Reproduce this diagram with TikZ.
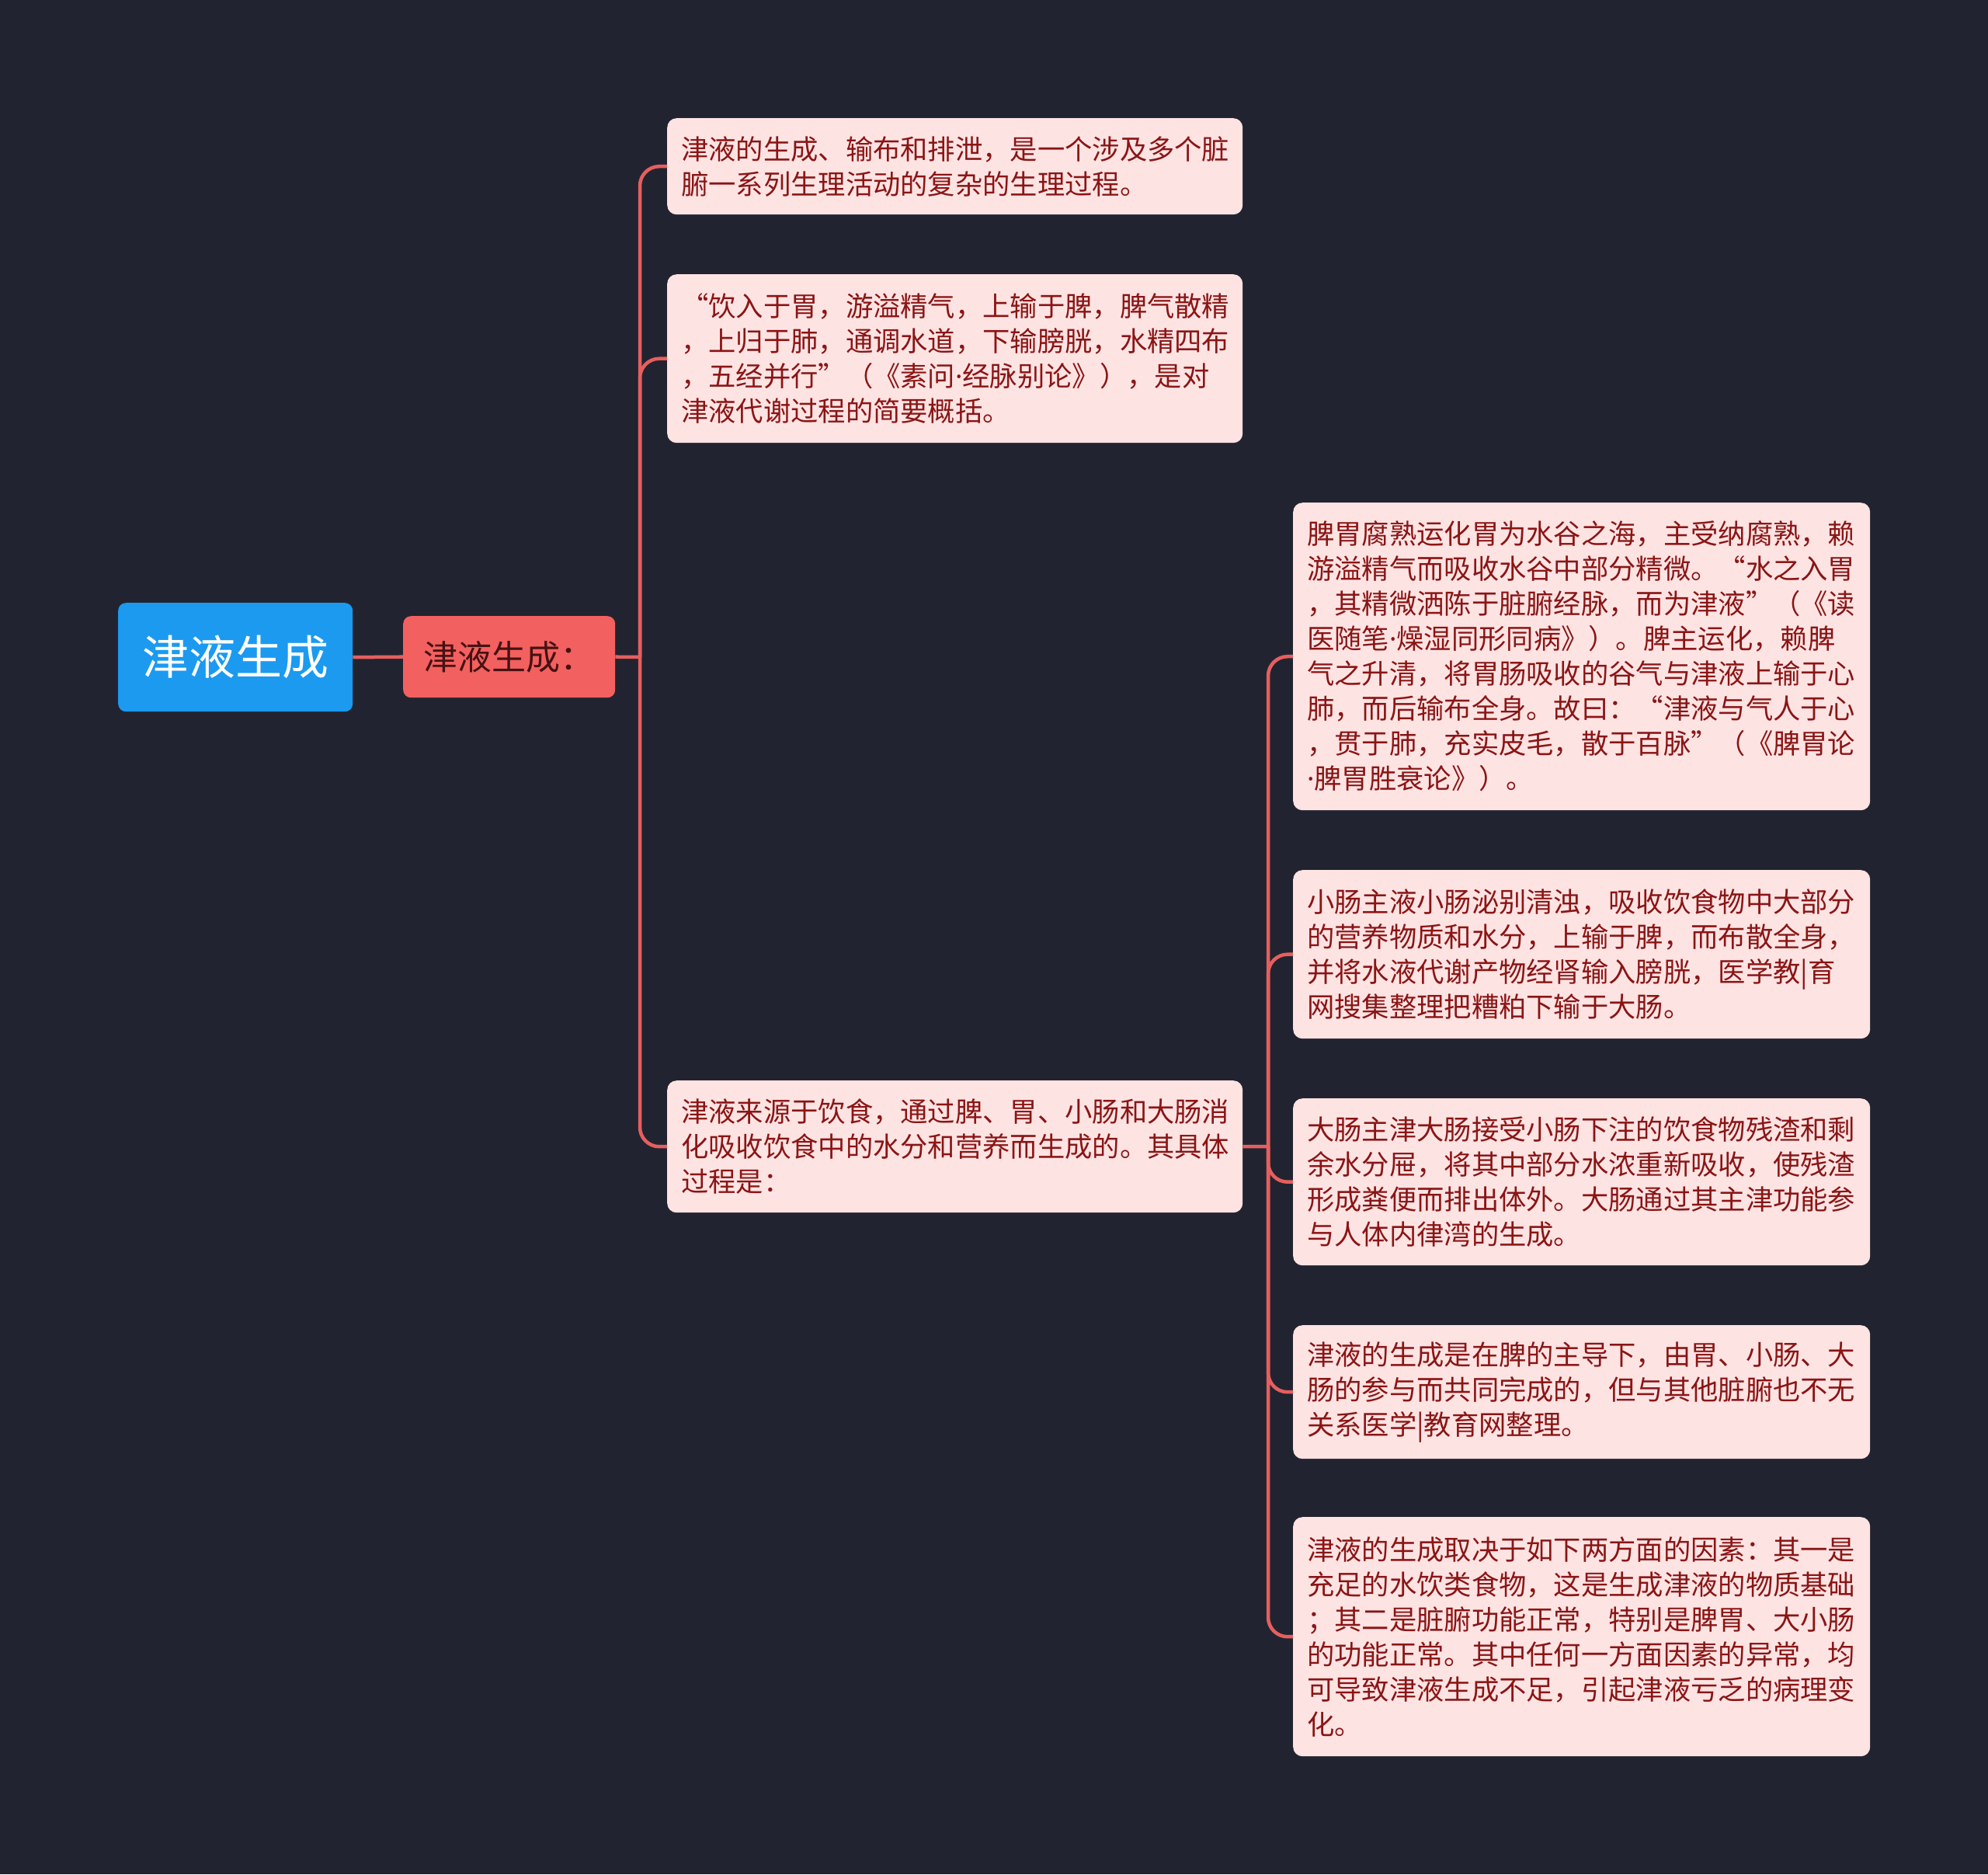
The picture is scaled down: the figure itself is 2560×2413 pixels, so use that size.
\documentclass[tikz,border=0pt]{standalone}
\usepackage{fontspec}
\setmainfont{Noto Sans CJK SC}
\newfontfamily\latf{Noto Sans}
\newcommand\mydot{{\latf ·}}
\definecolor{bgc}{HTML}{212430}
\definecolor{boxfill}{HTML}{FEE3E3}
\definecolor{boxtext}{HTML}{8A1515}
\definecolor{linec}{HTML}{E65F5E}
\definecolor{rootc}{HTML}{1B9AF0}
\definecolor{midc}{HTML}{F36060}
\definecolor{midtext}{HTML}{461212}
\begin{document}
\begin{tikzpicture}[x=1pt,y=-1pt,
  conn/.style={draw=linec, line width=4.5pt},
  leaf/.style={anchor=north west, fill=boxfill, rounded corners=12pt, text=boxtext,
    font=\fontsize{35.3}{45}\selectfont, align=left, inner xsep=18pt, inner ysep=0pt},
  leafl/.style={leaf, text width=705pt},
  leafr/.style={leaf, text width=707pt}
]
\fill[bgc] (0,0) rectangle (2560,2413);
\useasboundingbox (0,0) rectangle (2560,2413);

\node[anchor=north west, fill=rootc, rounded corners=10pt, minimum width=302pt,
  minimum height=140pt, inner sep=0pt, text=white, font=\fontsize{60}{72}\selectfont]
  (root) at (152,776) {津液生成};
\node[anchor=north west, fill=midc, rounded corners=10pt, minimum width=273pt,
  minimum height=105pt, inner sep=0pt, text=midtext, font=\fontsize{44}{52}\selectfont]
  (mid) at (519,793) {津液生成：};

\node[leafl, minimum height=124pt] (A) at (859,152)
  {津液的生成、输布和排泄，是一个涉及多个脏\\腑一系列生理活动的复杂的生理过程。};
\node[leafl, minimum height=217pt] (B) at (859,353)
  {“饮入于胃，游溢精气，上输于脾，脾气散精\\，上归于肺，通调水道，下输膀胱，水精四布\\，五经并行”（《素问\mydot 经脉别论》），是对\\津液代谢过程的简要概括。};
\node[leafl, minimum height=170pt] (C) at (859,1391)
  {津液来源于饮食，通过脾、胃、小肠和大肠消\\化吸收饮食中的水分和营养而生成的。其具体\\过程是：};

\node[leafr, minimum height=396pt] (D) at (1665,647)
  {脾胃腐熟运化胃为水谷之海，主受纳腐熟，赖\\游溢精气而吸收水谷中部分精微。“水之入胃\\，其精微洒陈于脏腑经脉，而为津液”（《读\\医随笔\mydot 燥湿同形同病》）。脾主运化，赖脾\\气之升清，将胃肠吸收的谷气与津液上输于心\\肺，而后输布全身。故曰：“津液与气人于心\\，贯于肺，充实皮毛，散于百脉”（《脾胃论\\\mydot 脾胃胜衰论》）。};
\node[leafr, minimum height=217pt] (E) at (1665,1120)
  {小肠主液小肠泌别清浊，吸收饮食物中大部分\\的营养物质和水分，上输于脾，而布散全身，\\并将水液代谢产物经肾输入膀胱，医学教|育\\网搜集整理把糟粕下输于大肠。};
\node[leafr, minimum height=215pt] (F) at (1665,1414)
  {大肠主津大肠接受小肠下注的饮食物残渣和剩\\余水分屉，将其中部分水浓重新吸收，使残渣\\形成粪便而排出体外。大肠通过其主津功能参\\与人体内律湾的生成。};
\node[leafr, minimum height=172pt] (G) at (1665,1706)
  {津液的生成是在脾的主导下，由胃、小肠、大\\肠的参与而共同完成的，但与其他脏腑也不无\\关系医学|教育网整理。};
\node[leafr, minimum height=308pt] (H) at (1665,1953)
  {津液的生成取决于如下两方面的因素：其一是\\充足的水饮类食物，这是生成津液的物质基础\\；其二是脏腑功能正常，特别是脾胃、大小肠\\的功能正常。其中任何一方面因素的异常，均\\可导致津液生成不足，引起津液亏乏的病理变\\化。};

\coordinate (j1) at (824,846);
\coordinate (j2) at (1633,1476);
\draw[conn] (root.east) -- (mid.west);
\draw[conn] (mid.east) -- (j1);
\foreach \c in {A,B,C} \draw[conn, rounded corners=25pt] (j1) |- (\c.west);
\draw[conn] (C.east) -- (j2);
\foreach \c in {D,E,F,G,H} \draw[conn, rounded corners=25pt] (j2) |- (\c.west);
\end{tikzpicture}
\end{document}
